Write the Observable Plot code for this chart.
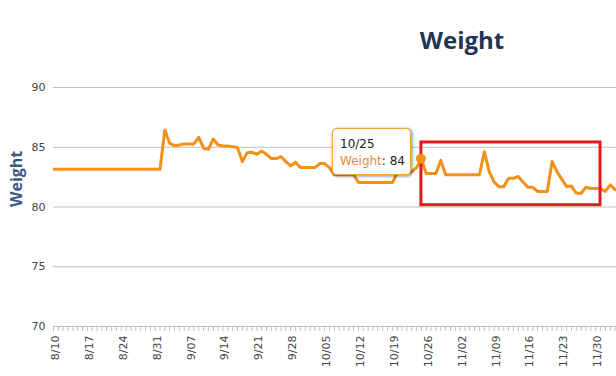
<!DOCTYPE html>
<html><head><meta charset="utf-8">
<script src="https://cdn.jsdelivr.net/npm/d3@7"></script>
<script src="https://cdn.jsdelivr.net/npm/@observablehq/plot@0.6"></script>
<style>
html,body{margin:0;padding:0;background:#fff;overflow:hidden;width:616px;height:376px}
#wrap{position:relative;width:616px;height:376px;overflow:hidden}
#title{position:absolute;left:0;top:0;width:924px;text-align:center;font-family:"Open Sans",sans-serif;font-weight:700;font-size:24px;color:#1f3656;line-height:32px;padding-top:24px;margin:0}
#chart{position:absolute;left:0;top:70px}
</style></head><body>
<div id="wrap"><h1 id="title">Weight</h1><div id="chart"></div></div>
<script>
const YEAR = 2011;
const chartTitle = "Weight";
const yTitle = "Weight";
const seriesName = "Weight";
const dates = ["08-10","09-01","09-02","09-03","09-04","09-05","09-06","09-07","09-08","09-09","09-10","09-11","09-12","09-13","09-14","09-15","09-16","09-17","09-18","09-19","09-20","09-21","09-22","09-23","09-24","09-25","09-26","09-27","09-28","09-29","09-30","10-01","10-02","10-03","10-04","10-05","10-06","10-07","10-08","10-09","10-10","10-11","10-12","10-13","10-14","10-15","10-16","10-17","10-18","10-19","10-20","10-21","10-22","10-23","10-24","10-25","10-26","10-27","10-28","10-29","10-30","10-31","11-01","11-02","11-03","11-04","11-05","11-06","11-07","11-08","11-09","11-10","11-11","11-12","11-13","11-14","11-15","11-16","11-17","11-18","11-19","11-20","11-21","11-22","11-23","11-24","11-25","11-26","11-27","11-28","11-29","11-30","12-01","12-02","12-03","12-04","12-05"];
const weights = [83.15,83.15,86.45,85.33,85.13,85.19,85.28,85.28,85.28,85.84,84.92,84.83,85.69,85.19,85.11,85.1,85.05,84.97,83.8,84.55,84.58,84.41,84.69,84.41,84.05,84.05,84.21,83.8,83.44,83.75,83.3,83.3,83.3,83.3,83.63,83.63,83.3,82.7,82.7,82.7,82.7,82.7,82.05,82.05,82.05,82.05,82.05,82.05,82.05,82.05,82.8,82.8,82.8,82.96,83.3,84,82.8,82.8,82.8,83.9,82.7,82.7,82.7,82.7,82.7,82.7,82.7,82.7,84.63,82.96,82.1,81.7,81.7,82.4,82.4,82.55,82.1,81.65,81.65,81.3,81.3,81.3,83.8,82.96,82.33,81.7,81.75,81.15,81.15,81.65,81.55,81.55,81.55,81.3,81.85,81.45,81.7];
const tickLabels = ["8/10","8/17","8/24","8/31","9/07","9/14","9/21","9/28","10/05","10/12","10/19","10/26","11/02","11/09","11/16","11/23","11/30"];
const yTicks = [70,75,80,85,90];
const xStart = "08-10";
const visibleDays = 116.3;
const tooltipDate = "10-25";
const highlight = [{x1: "10-25", x2: "12-01", y1: 80.15, y2: 85.4}];

const parse = s => d3.utcParse("%Y-%m-%d")(YEAR + "-" + s);
const data = dates.map((d, i) => ({date: parse(d), weight: weights[i]}));
const start = parse(xStart);
const end = new Date(+start + visibleDays * 864e5);
const tickDates = tickLabels.map(l => { const [m, d] = l.split("/"); return new Date(Date.UTC(YEAR, +m - 1, +d)); });
const fmtTick = d => tickLabels[tickDates.findIndex(t => +t === +d)];
const days = d3.utcDay.range(start, end);
const boxes = highlight.map(h => ({x1: parse(h.x1), x2: parse(h.x2), y1: h.y1, y2: h.y2}));

const LINE = "#f2901a";
const chart = Plot.plot({
  width: 616, height: 306,
  marginTop: 17, marginBottom: 50, marginLeft: 53, marginRight: 0,
  style: {fontFamily: "DejaVu Sans", fontSize: "11px", color: "#444", background: "#fff", overflow: "visible"},
  x: {type: "utc", domain: [start, end]},
  y: {domain: [70, 90]},
  marks: [
    Plot.gridY(yTicks.slice(1), {stroke: "#c0c0c0", strokeOpacity: 1}),
    Plot.ruleY([70], {stroke: "#c0c0c0"}),
    Plot.axisX({ticks: days, tickSize: 5, stroke: "#c0c0c0", strokeOpacity: 1, tickFormat: () => "", label: null}),
    Plot.axisX({ticks: tickDates, tickSize: 0, tickPadding: 9, tickRotate: -90, dx: 2, tickFormat: fmtTick, fill: "#444", label: null}),
    Plot.axisY({ticks: yTicks, tickSize: 0, tickPadding: 8, fill: "#444", label: null}),
    Plot.text([yTitle], {frameAnchor: "left", rotate: -90, dx: -37, fontSize: 16, fontWeight: "bold", fill: "#3a5a84", fontFamily: "Open Sans"}),
    Plot.line(data, {x: "date", y: "weight", stroke: LINE, strokeWidth: 3, strokeLinejoin: "round", clip: true}),
    Plot.rect(boxes, {x1: "x1", x2: "x2", y1: "y1", y2: "y2", stroke: "#e3191c", strokeWidth: 3, fill: "none"})
  ]
});
document.getElementById("chart").appendChild(chart);

// tooltip at the highlighted point
const tp = data.find(d => +d.date === +parse(tooltipDate));
const sx = chart.scale("x"), sy = chart.scale("y");
const px = sx.apply(tp.date), py = sy.apply(tp.weight);
const svg = d3.select(chart);
const g = svg.append("g").attr("text-anchor", "start").attr("font-family", "DejaVu Sans");
const bx = Math.round(px - 89) + 0.5, by = Math.round(py - 31) + 0.5, bw = 78, bh = 46;
[3, 2, 1].forEach(k => g.append("rect").attr("x", bx + 1).attr("y", by + 1).attr("width", bw).attr("height", bh).attr("rx", 4)
  .attr("fill", "none").attr("stroke", "rgba(0,0,0," + (0.05 * k) + ")").attr("stroke-width", 2 * (4 - k)));
g.append("rect").attr("x", bx).attr("y", by).attr("width", bw).attr("height", bh).attr("rx", 4)
  .attr("fill", "#fff").attr("stroke", "#f3a33a").attr("stroke-width", 1);
const m = tp.date.getUTCMonth() + 1, dd = String(tp.date.getUTCDate()).padStart(2, "0");
g.append("text").attr("x", bx + 7.5).attr("y", by + 19.5).attr("font-size", 12).attr("fill", "#222").text(m + "/" + dd);
const t2 = g.append("text").attr("x", bx + 7.5).attr("y", by + 36.5).attr("font-size", 12);
t2.append("tspan").attr("fill", "#ec8a3c").text(seriesName);
t2.append("tspan").attr("fill", "#222").text(": " + tp.weight);
g.append("circle").attr("cx", px).attr("cy", py).attr("r", 5).attr("fill", LINE);
</script>
</body></html>
